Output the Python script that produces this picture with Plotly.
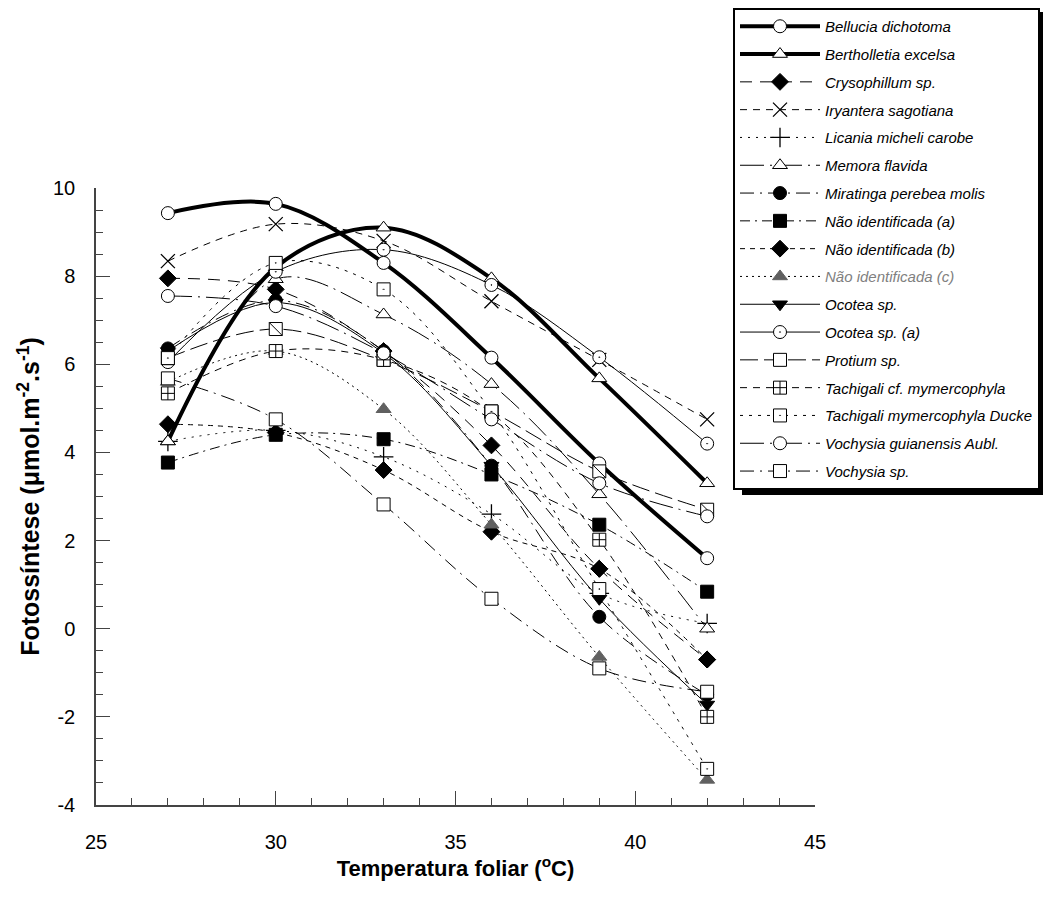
import plotly.graph_objects as go

temps = [27, 30, 33, 36, 39, 42]

bellucia = [9.43, 9.64, 8.3, 6.15, 3.75, 1.6]
bertholletia = [4.25, 8.2, 9.1, 7.95, 5.68, 3.3]
crysophillum = [7.95, 7.7, 6.3, 4.16, 1.36, -0.7]
iryantera = [8.34, 9.18, 8.8, 7.43, 6.1, 4.75]
licania = [4.25, 4.5, 3.9, 2.6, 0.8, 0.12]
memora = [4.25, 7.93, 7.13, 5.55, 3.05, 0.0]
miratinga = [6.36, 7.45, 6.3, 3.7, 0.27, -1.5]
nao_a = [3.77, 4.4, 4.3, 3.5, 2.36, 0.84]
nao_b = [4.64, 4.45, 3.6, 2.2, 1.36, -0.7]
nao_c = [5.6, 6.3, 4.98, 2.36, -0.64, -3.43]
ocotea = [6.3, 7.4, 6.25, 3.7, 0.68, -1.72]
ocotea_a = [6.05, 8.1, 8.6, 7.8, 6.16, 4.2]
protium = [6.14, 6.8, 6.1, 4.93, 3.57, 2.7]
tachigali_cf = [5.34, 6.3, 6.1, 4.9, 2.02, -2.0]
tachigali_ducke = [6.14, 8.3, 7.7, 4.93, 0.9, -3.18]
vochysia_g = [7.55, 7.32, 6.25, 4.75, 3.3, 2.55]
vochysia_sp = [5.68, 4.75, 2.82, 0.68, -0.9, -1.43]

x_ticks = [25, 30, 35, 40, 45]
y_ticks = [-4, -2, 0, 2, 4, 6, 8, 10]

series = [
    ("Bellucia dichotoma", bellucia, "circle", "white", "solid", 4),
    ("Bertholletia excelsa", bertholletia, "triangle-up", "white", "solid", 4),
    ("Crysophillum sp.", crysophillum, "diamond", "black", "12px,8px", 1),
    ("Iryantera sagotiana", iryantera, "x-thin", "black", "7px,6px", 1),
    ("Licania micheli carobe", licania, "cross-thin", "black", "2px,6px", 1),
    ("Memora flavida", memora, "triangle-up", "white", "24px,6px,2px,6px", 1),
    ("Miratinga perebea molis", miratinga, "circle", "black", "14px,6px,2px,6px", 1),
    ("Não identificada (a)", nao_a, "square", "black", "10px,5px,2px,5px", 1),
    ("Não identificada (b)", nao_b, "diamond", "black", "5px,5px", 1),
    ("<span style='color:#808080'>Não identificada (c)</span>", nao_c, "triangle-up", "#606060", "2px,4px", 1),
    ("Ocotea sp.", ocotea, "triangle-down", "black", "solid", 1),
    ("Ocotea sp. (a)", ocotea_a, "circle-dot", "white", "solid", 1),
    ("Protium sp.", protium, "square", "white", "18px,6px", 1),
    ("Tachigali cf. mymercophyla", tachigali_cf, "square-cross", "white", "7px,6px", 1),
    ("Tachigali mymercophyla Ducke", tachigali_ducke, "square-dot", "white", "3px,6px", 1),
    ("Vochysia guianensis Aubl.", vochysia_g, "circle", "white", "24px,6px,2px,6px", 1),
    ("Vochysia sp.", vochysia_sp, "square", "white", "14px,6px,2px,6px", 1),
]

fig = go.Figure()
for i, (name, vals, sym, fill, dash, w) in enumerate(series):
    thin = sym in ("x-thin", "cross-thin")
    lc = "#606060" if fill == "#606060" else "black"
    fig.add_trace(go.Scatter(
        x=temps, y=vals, name=name, mode="lines+markers",
        legendgroup=f"g{i}",
        line=dict(color="black", width=w, dash=dash, shape="spline", smoothing=1),
        marker=dict(symbol=sym, size=14 if thin else 13, color=fill if not thin else "black",
                    line=dict(color=lc, width=1.3 if thin else 1)),
    ))
    if name.startswith("Protium"):
        fig.add_trace(go.Scatter(
            x=temps, y=vals, mode="markers", showlegend=False, legendgroup=f"g{i}",
            marker=dict(symbol="line-nw", size=13, line=dict(color="black", width=1)),
            hoverinfo="skip",
        ))

# page offset of the figure div (default body margin)
OFF = 8
# plot area in page pixels
L, R, T, B = 96, 815, 188, 805
W, H = 1035, 900

def px(xp):
    return (xp - L) / (R - L)

def py(yp):
    return (B - yp) / (B - T)

# legend drop shadow: right and bottom strips
fig.add_shape(type="rect", xref="paper", yref="paper",
              x0=px(1036), x1=px(1043), y0=py(495), y1=py(12),
              fillcolor="black", line=dict(width=0), layer="above")
fig.add_shape(type="rect", xref="paper", yref="paper",
              x0=px(742), x1=px(1043), y0=py(495), y1=py(487),
              fillcolor="black", line=dict(width=0), layer="above")

axis_common = dict(showline=True, linecolor="#444", linewidth=1.5, showgrid=False,
                   zeroline=False, ticks="inside", tickcolor="#444", automargin=False,
                   tickfont=dict(family="Liberation Sans, Arial", size=20, color="black"),
                   mirror=False, tickmode="array")

fig.update_layout(
    width=W, height=H,
    margin=dict(l=L - OFF, r=W - (R - OFF), t=T - OFF, b=H - (B - OFF), autoexpand=False),
    paper_bgcolor="white", plot_bgcolor="white",
    font=dict(family="Liberation Sans, Arial", color="black"),
    xaxis=dict(range=[25, 45], tickvals=x_ticks, ticktext=[str(v) for v in x_ticks],
               ticklen=14, ticklabelstandoff=18,
               minor=dict(dtick=1, tick0=25, ticklen=7, ticks="inside", tickcolor="#444"),
               title=dict(text="<b>Temperatura foliar (<sup>o</sup>C)</b>",
                          font=dict(size=22), standoff=9),
               **axis_common),
    yaxis=dict(range=[-4, 10], tickvals=y_ticks, ticktext=[str(v) for v in y_ticks],
               ticklen=14, ticklabelstandoff=15,
               minor=dict(dtick=0.5, tick0=-4, ticklen=7, ticks="inside", tickcolor="#444"),
               title=dict(text="<b>Fotossíntese (μmol.m<sup>-2</sup>.s<sup>-1</sup>)</b>",
                          font=dict(size=25), standoff=6),
               **axis_common),
    legend=dict(xref="container", yref="container",
                x=(733 - OFF) / W, y=1, xanchor="left", yanchor="top",
                bgcolor="white", bordercolor="black", borderwidth=2,
                font=dict(family="Liberation Sans, Arial", size=15, style="italic", color="black"),
                tracegroupgap=5.3, itemwidth=80, maxheight=890),
    showlegend=True,
)

fig.write_html("out.html")
